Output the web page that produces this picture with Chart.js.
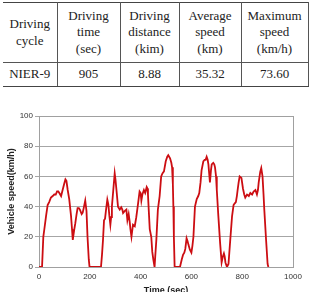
<!DOCTYPE html>
<html>
<head>
<meta charset="utf-8">
<script src="https://cdn.jsdelivr.net/npm/chart.js@4.4.1/dist/chart.umd.min.js"></script>
<style>
html, body { margin: 0; padding: 0; width: 309px; height: 292px; overflow: hidden; background: #fff; }
#cycle-table {
    position: absolute; left: 3px; top: 2px; width: 305px;
    border-collapse: collapse; table-layout: fixed;
    font-family: "Liberation Serif", "Times New Roman", serif; font-size: 13px;
    color: #222; text-align: center;
}
#cycle-table td { padding: 0; line-height: 16.5px; border-left: 1px solid #555; border-right: 1px solid #555; }
#cycle-table tr:first-child td { height: 59px; border-top: 1.5px solid #444; border-bottom: 1px solid #555; }
#cycle-table tr:last-child td { height: 23px; border-bottom: 1.5px solid #444; }
#cycle-table td:first-child { border-left: none; }
#chart-box { position: absolute; left: 0; top: 100px; width: 309px; height: 200px; }
</style>
</head>
<body>
<table id="cycle-table">
    <colgroup><col style="width:54px"><col style="width:63px"><col style="width:59px"><col style="width:62px"><col style="width:67px"></colgroup>
    <tr>
        <td>Driving<br>cycle</td>
        <td>Driving<br>time<br>(sec)</td>
        <td>Driving<br>distance<br>(kim)</td>
        <td>Average<br>speed<br>(km)</td>
        <td>Maximum<br>speed<br>(km/h)</td>
    </tr>
    <tr>
        <td>NIER-9</td>
        <td>905</td>
        <td>8.88</td>
        <td>35.32</td>
        <td>73.60</td>
    </tr>
</table>
<div id="chart-box"><canvas id="speed-chart" width="309" height="200"></canvas></div>
<script>
// datos
const timeSec = [0, 12, 17, 21, 28, 34, 40, 47, 54, 60, 66, 71, 76, 80, 87, 93, 99, 104, 108, 113,
    119, 126, 130, 133, 138, 143, 148, 152, 157, 161, 168, 172, 176, 182, 187, 191, 196, 199, 244, 248,
    252, 256, 260, 264, 269, 273, 277, 281, 284, 287, 292, 298, 301, 305, 311, 318, 324, 328, 331, 337,
    344, 348, 353, 357, 360, 364, 370, 377, 383, 390, 396, 400, 403, 407, 413, 418, 424, 427, 429, 432,
    436, 442, 446, 450, 455, 458, 462, 468, 475, 481, 486, 492, 499, 505, 509, 516, 521, 524, 527, 529,
    531, 534, 555, 562, 567, 572, 576, 581, 585, 588, 594, 600, 604, 608, 614, 621, 627, 631, 636, 640,
    647, 652, 656, 660, 664, 667, 670, 673, 677, 680, 686, 690, 693, 697, 700, 706, 713, 719, 724, 728,
    731, 734, 740, 746, 753, 760, 766, 770, 775, 779, 782, 786, 790, 797, 803, 808, 812, 819, 826, 832,
    839, 845, 852, 858, 862, 865, 871, 875, 880, 884, 887, 894, 900, 903];
const speedKmh = [0, 0, 20, 25, 34, 41, 43, 46, 47, 48, 48, 50, 50, 49, 47, 51, 55, 58, 57, 51,
    45, 34, 25, 18, 24, 29, 35, 39, 39, 38, 35, 36, 39, 44, 37, 20, 5, 0, 0, 8,
    18, 31, 32, 38, 44.6, 41.5, 34, 28, 33, 40, 50, 62, 58, 51, 40, 38, 39.5, 38, 35.8, 37,
    38, 31, 35, 30, 25, 20, 28, 27, 33, 42, 50, 49, 44, 48, 51, 49, 53, 52, 48, 38,
    25, 20, 10, 5, 0, 8, 18, 38, 47, 60, 62, 63.3, 70, 73, 74, 72, 69, 66, 55, 40,
    20, 0, 0, 5, 8, 9.5, 12, 19, 17, 15, 11.5, 9.5, 14, 20, 40, 45, 47, 49, 56, 64,
    70, 71, 71, 73, 71, 68, 62, 56, 64, 68, 69, 68, 66, 60, 51, 34, 16, 3, 7, 9,
    7, 3, 0, 2, 18, 33.5, 41, 42, 43, 47, 51, 56, 60, 59, 52, 48, 46, 48, 47, 49,
    48, 50, 51, 48, 51, 56, 63, 65.5, 60, 48, 38, 18, 2, 0];
const xTicks = [0, 200, 400, 600, 800, 1000];
const yTicks = [0, 20, 40, 60, 80, 100];

const axisFont = 'Liberation Sans, Arial, sans-serif';

// marco gris alrededor del area de la grafica
const plotFrame = {
    id: 'plotFrame',
    beforeDatasetsDraw(chart) {
        const { ctx, chartArea: a } = chart;
        ctx.save();
        ctx.strokeStyle = '#a0a0a0';
        ctx.lineWidth = 1;
        ctx.strokeRect(Math.round(a.left) + 0.5, Math.round(a.top) + 0.5,
            Math.round(a.right - a.left), Math.round(a.bottom - a.top));
        ctx.restore();
    }
};

const ctx = document.getElementById('speed-chart').getContext('2d');
new Chart(ctx, {
    type: 'line',
    data: {
        datasets: [{
            data: timeSec.map((t, i) => ({ x: t, y: speedKmh[i] })),
            borderColor: '#cc0d12', borderWidth: 1.8, pointRadius: 0, tension: 0, fill: false
        }]
    },
    options: {
        responsive: false, animation: false,
        layout: { padding: { top: 16, right: 16, left: 0, bottom: 0 } },
        plugins: { legend: { display: false }, tooltip: { enabled: false } },
        scales: {
            x: {
                type: 'linear', min: 0, max: 1000,
                afterBuildTicks: s => { s.ticks = xTicks.map(v => ({ value: v })); },
                grid: { display: false, drawTicks: false },
                border: { display: false },
                ticks: { padding: 5, color: '#333', maxRotation: 0, font: { family: axisFont, size: 8 },
                    callback: v => String(v) },
                title: { display: true, text: 'Time (sec)', color: '#222',
                    font: { family: axisFont, size: 9, weight: 'bold' }, padding: { top: 2, bottom: 4 } },
                afterFit: s => { s.height = 33; }
            },
            y: {
                min: 0, max: 100,
                afterBuildTicks: s => { s.ticks = yTicks.map(v => ({ value: v })); },
                grid: { color: '#a6a6a6', lineWidth: 1, tickLength: 4 },
                border: { display: false },
                ticks: { padding: 2, color: '#333', font: { family: axisFont, size: 8 },
                    callback: v => String(v) },
                title: { display: true, text: 'Vehicle speed(km/h)', color: '#222',
                    font: { family: axisFont, size: 9, weight: 'bold' }, padding: { top: 6, bottom: 2 } },
                afterFit: s => { s.width = 39; }
            }
        }
    },
    plugins: [plotFrame]
});
</script>
</body>
</html>
